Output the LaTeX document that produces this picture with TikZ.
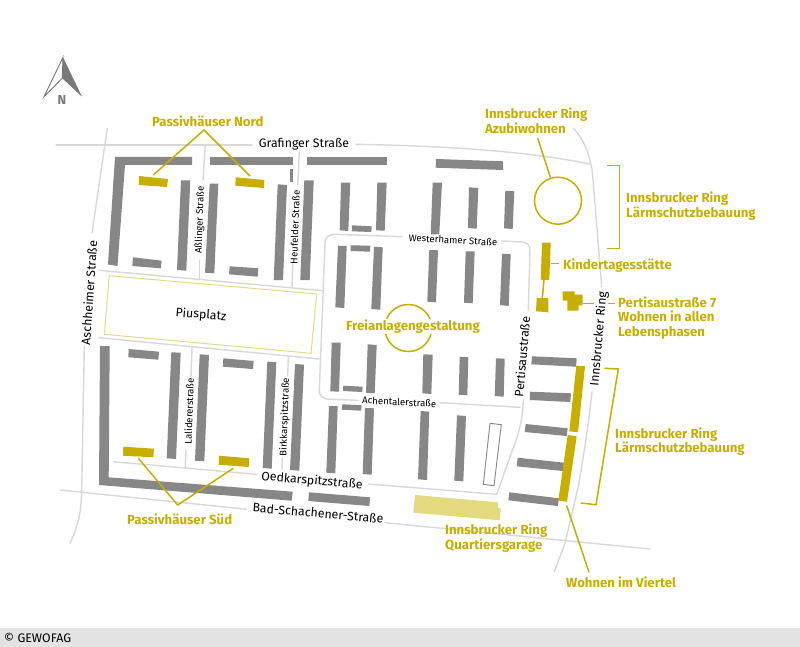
\documentclass[tikz,border=0pt]{standalone}
\usepackage{fontspec}
\setmainfont{Fira Sans}
\definecolor{gold}{HTML}{C8AE00}
\definecolor{bldgray}{HTML}{878787}
\definecolor{roadgray}{HTML}{D8D8D8}
\definecolor{parkline}{HTML}{E6DA85}
\definecolor{garage}{HTML}{E4DA80}
\definecolor{barcol}{HTML}{E3E3E3}
\tikzset{
  bld/.style={fill=bldgray},
  gbld/.style={fill=gold},
  road/.style={draw=roadgray,line width=1.4pt,line cap=round,line join=round},
  lead/.style={draw=gold,line width=1.5pt},
  goldlabel/.style={text=gold,font=\fontsize{13.2}{14.6}\selectfont\bfseries,align=left,inner sep=0pt},
  streetA/.style={text=black,font=\fontsize{12.3}{14}\selectfont,inner sep=0pt},
  streetB/.style={text=black,font=\fontsize{9.6}{12}\selectfont,inner sep=0pt},
}
\begin{document}
\begin{tikzpicture}[x=1pt,y=-1pt]
\useasboundingbox (0,0) rectangle (800,647);
\fill[white] (0,0) rectangle (800,647);
\fill[barcol] (0,628) rectangle (800,647);
\node[anchor=west,inner sep=0pt,font=\fontsize{12.4}{14}\selectfont] (copy) at (4,637.5) {© GEWOFAG};

% roads
\draw[road] (56,145) -- (252,145);
\draw[road] (356,144.3) .. controls (440,146) and (520,150) .. (590,164);
\draw[road] (107.3,128.3) -- (92,233);
\draw[road] (84.3,346.7) -- (81.7,490) .. controls (81,515) and (78,525) .. (70,543.3);
\draw[road] (205.3,145) -- (203,180);
\draw[road] (199.3,260) -- (199.3,279.3);
\draw[road] (299.3,151.7) -- (297.7,185);
\draw[road] (292.7,264) -- (292,287.3);
\draw[road] (99,270.3) -- (323,290.7);
\draw[road] (401.7,236.7) -- (335,234.3) .. controls (328,234.3) and (325,238) .. (325,243) -- (319.3,391) .. controls (319.3,396) and (323,399.3) .. (330,399.3) -- (358,400.3);
\draw[road] (440,402.7) -- (520,407.3);
\draw[road] (501.7,241) -- (522,242) .. controls (527,242.3) and (530,245) .. (530,250) -- (528.3,310);
\draw[road] (99,337.7) -- (319.3,359);
\draw[road] (192,347.7) -- (191,377.3);
\draw[road] (186,450) -- (185.3,467.7);
\draw[road] (288.3,356.7) -- (287.7,376);
\draw[road] (282.3,458.3) -- (282,470);
\draw[road] (113.3,461.7) -- (256.7,474.3);
\draw[road] (368.3,484) -- (496.7,494.3) -- (515,443) .. controls (520,430) and (523,415) .. (523.3,400);
\draw[road] (60,490) -- (246.7,509.3);
\draw[road] (385,522.7) -- (650,549);
\draw[road] (573.3,128.3) .. controls (585,140) and (592,160) .. (593,180) -- (601.7,286.7);
\draw[road] (592,391.7) .. controls (588,430) and (582,465) .. (578.3,486.7) -- (565,543.3) -- (554.3,571.7);

% Piusplatz
\draw[draw=parkline,line width=1pt] (109.3,275.7) -- (316.7,294) -- (311,353.3) -- (104.3,334.3) -- cycle;

% grey buildings, north-west
\fill[bld] (115,157)--(192,157)--(192,165)--(125,165)--(117.5,266)--(108,264.5)--cycle;
\fill[bld] (210,157)--(293,157)--(293,165)--(210,165)--cycle;
\fill[bld] (307,157)--(387,157)--(387,165)--(307,165)--cycle;
\fill[bld] (181,180.3)--(190.3,180.3)--(186.3,270.7)--(177,270)--cycle;
\fill[bld] (209.7,183.7)--(218.3,183.7)--(214.3,273.3)--(205,272.7)--cycle;
\fill[bld] (277.7,184.3)--(287,185)--(283,280)--(273.7,280)--cycle;
\fill[bld] (304.3,180.3)--(313.7,180.3)--(309.7,280)--(300.3,280)--cycle;
\fill[bld] (290.3,169.3)--(293.3,169.3)--(293.3,182)--(290.3,182)--cycle;
\fill[bld] (133,257.3)--(161.7,260.7)--(160.7,268.3)--(132.3,266)--cycle;
\fill[bld] (229.7,266.3)--(258.3,268.3)--(257.7,276.7)--(229,274.3)--cycle;
% north-east
\fill[bld] (341,182.7)--(350.3,182.7)--(348.3,231)--(339.7,230.3)--cycle;
\fill[bld] (377.3,182.7)--(386.7,182.7)--(384.7,230.7)--(376,230.3)--cycle;
\fill[bld] (352,225.3)--(371.7,226.3)--(371.3,232)--(351.7,231.3)--cycle;
\fill[bld] (436,159)--(503,161.3)--(503,170)--(435.7,167.7)--cycle;
\fill[bld] (432.7,182.7)--(442,182.7)--(439.3,234.3)--(430.7,234.3)--cycle;
\fill[bld] (469,187.3)--(478.3,188)--(476.7,228.7)--(468,228)--cycle;
\fill[bld] (505.3,190.7)--(514.3,191.3)--(512.7,229)--(504,228.3)--cycle;
\fill[bld] (338,245.7)--(346.7,246)--(344.3,308)--(335.3,307.3)--cycle;
\fill[bld] (350.7,245.3)--(370.3,245.7)--(370,251.7)--(350.7,251)--cycle;
\fill[bld] (374,246.7)--(382.7,247.3)--(380.3,309.7)--(371.3,309)--cycle;
\fill[bld] (429.3,250)--(438,250.3)--(436,302.3)--(427.3,301.7)--cycle;
\fill[bld] (465.7,251.3)--(474.7,251.3)--(472.7,303.3)--(464,302.7)--cycle;
\fill[bld] (502,253.7)--(510.7,254.3)--(508.7,306)--(500,305)--cycle;
% south-west
\fill[bld] (100,346)--(109.7,346)--(108.7,477.3)--(292.7,491.7)--(291.7,500.7)--(99,485)--cycle;
\fill[bld] (309,492.3)--(370,497.3)--(369.3,506)--(308.3,501)--cycle;
\fill[bld] (128.7,349)--(159,351.7)--(158.3,359.7)--(128.3,357.3)--cycle;
\fill[bld] (171.3,352.3)--(180.7,352.7)--(176,459)--(166.7,458.3)--cycle;
\fill[bld] (199.7,354.3)--(209,355)--(204.3,461.3)--(195,460.7)--cycle;
\fill[bld] (223.3,358.3)--(253.7,361)--(253,369)--(223,366.7)--cycle;
\fill[bld] (267.3,361.7)--(276.3,362.3)--(271.7,468.7)--(262.7,468)--cycle;
\fill[bld] (295,364)--(304,364.7)--(299.3,470.7)--(290,470)--cycle;
% south-centre
\fill[bld] (331.7,342.7)--(340.7,342.7)--(339,391.7)--(330.3,391.3)--cycle;
\fill[bld] (343.3,385.7)--(362.7,386.7)--(362.3,392)--(343,391)--cycle;
\fill[bld] (367.7,344.3)--(376.7,345)--(374.7,393.3)--(366,392.7)--cycle;
\fill[bld] (423.3,354.3)--(432.7,354.7)--(431.3,394)--(422.3,393.3)--cycle;
\fill[bld] (459.7,356.7)--(468.3,357.3)--(467.3,395.3)--(458.7,394.7)--cycle;
\fill[bld] (496,358.3)--(504.7,358.7)--(503.7,396.7)--(494.7,396)--cycle;
\fill[bld] (329,406)--(337.7,406)--(335.3,473.3)--(326.3,472.7)--cycle;
\fill[bld] (342.3,404.3)--(361.7,405.3)--(361,410.7)--(341.7,409.7)--cycle;
\fill[bld] (365,408)--(374,408.3)--(371.7,474.7)--(362.7,474)--cycle;
\fill[bld] (420.7,411)--(429.3,411.7)--(427,480)--(418,479.3)--cycle;
\fill[bld] (457,415.3)--(466,416)--(463.3,481.3)--(454.3,480.7)--cycle;
\draw[draw=bldgray,line width=0.9pt] (490,423.3)--(501.3,424.7)--(494,485.7)--(483.3,484.3)--cycle;
% south-east
\fill[bld] (532,356.3)--(576.7,358.3)--(576,366.7)--(531.3,364.3)--cycle;
\fill[bld] (530,391.7)--(571,393.3)--(570.3,402)--(529.7,400)--cycle;
\fill[bld] (525.7,424)--(567.7,428.3)--(566.7,436)--(524.7,432)--cycle;
\fill[bld] (517.7,457.7)--(564,462.7)--(562.7,471)--(516.7,466.3)--cycle;
\fill[bld] (509.3,492.3)--(559,498.3)--(557.7,506)--(508.3,500.3)--cycle;

% garage
\fill[garage] (415,495)--(497.7,502.3)--(498,508)--(500.7,508.3)--(500,520.3)--(413.3,512.7)--cycle;

% gold buildings
\fill[gbld] (139,176)--(168,179)--(167,187)--(138.7,185)--cycle;
\fill[gbld] (235.7,177.3)--(264.3,180)--(264,188)--(235.3,185.7)--cycle;
\fill[gbld] (123.3,446.7)--(154,448.7)--(153.3,457.3)--(123,455.7)--cycle;
\fill[gbld] (219,455.7)--(249.3,458.3)--(248.7,467)--(218.7,464.7)--cycle;
\fill[gbld] (542,242.7)--(550.7,242.7)--(549.3,280)--(540.7,279.7)--cycle;
\fill[gbld] (536.7,298)--(548.3,298)--(548.3,312.3)--(536,311.3)--cycle;
\fill[gbld] (562.7,291.3)--(574.7,291.3)--(574.7,294.7)--(582.7,294.7)--(582.7,305.3)--(578.7,305.3)--(578.7,310.7)--(567.3,310.7)--(567.3,300.7)--(562.7,300.7)--cycle;
\fill[gbld] (576.3,365.7)--(585,366.3)--(578,432.3)--(569.3,431.3)--cycle;
\fill[gbld] (567.7,435)--(576.7,436.3)--(567,501.7)--(558.3,500.7)--cycle;

% project circles
\node[circle,draw=gold,line width=1.5pt,minimum size=47pt,inner sep=0pt] (azubi) at (558,200.7) {};
\node[circle,draw=gold,line width=1.5pt,minimum size=47pt,inner sep=0pt] (frei) at (408.3,328) {};

% gold labels
\node[goldlabel,fill=white,minimum height=15pt,inner xsep=1pt] (freilabel) at (413,326.5) {Freianlagengestaltung};
\node[goldlabel,anchor=west] (nord) at (152,121) {Passivhäuser Nord};
\node[goldlabel,anchor=west] (sued) at (127,519) {Passivhäuser Süd};
\node[goldlabel,anchor=west] (azubilabel) at (485,121) {Innsbrucker Ring\\Azubiwohnen};
\node[goldlabel,anchor=west] (laermA) at (626,206) {Innsbrucker Ring\\Lärmschutzbebauung};
\node[goldlabel,anchor=west] (kita) at (563,265.5) {Kindertagesstätte};
\node[goldlabel,anchor=west] (pert) at (618,318) {Pertisaustraße 7\\Wohnen in allen\\Lebensphasen};
\node[goldlabel,anchor=west] (laermB) at (615,441.5) {Innsbrucker Ring\\Lärmschutzbebauung};
\node[goldlabel,anchor=west] (garagelabel) at (445,538) {Innsbrucker Ring\\Quartiersgarage};
\node[goldlabel,anchor=west] (viertel) at (566,582) {Wohnen im Viertel};

% connector ends
\coordinate (apexN) at (204,130);
\coordinate (nordA) at (153.3,175);
\coordinate (nordB) at (250,176);
\coordinate (apexS) at (177.7,505);
\coordinate (suedA) at (138.3,458.3);
\coordinate (suedB) at (233.3,468.3);
\coordinate (azA) at (537.7,138.3);
\coordinate (kitaA) at (550.7,263.3);
\coordinate (kitaB) at (559.3,263.3);
\coordinate (linkA) at (544,280);
\coordinate (linkB) at (542.3,298);
\coordinate (pertA) at (582.7,303.3);
\coordinate (pertB) at (594,303.3);
\coordinate (pertC) at (608,303.3);
\coordinate (pertD) at (615,303.3);
\coordinate (viertA) at (566.7,505.7);
\coordinate (viertB) at (589,572.3);
\coordinate (brA1) at (607.3,165.7);
\coordinate (brA2) at (619.3,165.7);
\coordinate (brA3) at (619.3,248.3);
\coordinate (brA4) at (607.3,248.3);
\coordinate (brB1) at (604.3,368.3);
\coordinate (brB2) at (618.3,369);
\coordinate (brB3) at (596,504.7);
\coordinate (brB4) at (580.7,503);

% connectors
\draw[lead] (nordA) -- (apexN) -- (nordB);
\draw[lead] (suedA) -- (apexS) -- (suedB);
\draw[lead] (azA) -- (azubi);
\draw[lead] (kitaA) -- (kitaB);
\draw[lead] (linkA) -- (linkB);
\draw[lead] (pertA) -- (pertB);
\draw[lead] (pertC) -- (pertD);
\draw[lead] (viertA) -- (viertB);
\draw[lead] (brA1) -- (brA2) -- (brA3) -- (brA4);
\draw[lead] (brB1) -- (brB2) -- (brB3) -- (brB4);

% street names
\node[streetA] (grafinger) at (304,144) {Grafinger Straße};
\node[streetA,rotate=86] (aschheim) at (89,293) {Aschheimer Straße};
\node[streetA,rotate=-4.5] (pius) at (201,315) {Piusplatz};
\node[streetA,rotate=-5] (oed) at (312,481) {Oedkarspitzstraße};
\node[streetA,rotate=-5] (bad) at (318,513) {Bad-Schachener-Straße};
\node[streetA,rotate=85] (pertstr) at (522,357) {Pertisaustraße};
\node[streetA,rotate=85] (inns) at (599,339) {Innsbrucker Ring};
\node[streetB,rotate=88] (asl) at (200,220) {Aßlinger Straße};
\node[streetB,rotate=88] (heuf) at (295,227) {Heufelder Straße};
\node[streetB,rotate=-3] (west) at (453,240) {Westerhamer Straße};
\node[streetB,rotate=88] (lali) at (189,411) {Lalidererstraße};
\node[streetB,rotate=88] (birk) at (285,417) {Birkkarspitzstraße};
\node[streetB,rotate=-3] (achen) at (399.3,402) {Achentalerstraße};

% north arrow
\draw[draw=bldgray!90!black,line width=0.9pt,line join=miter,fill=white] (63,57.3) -- (44,96.7) -- (62.3,78.3) -- cycle;
\fill[fill=bldgray!90!black] (63,57.3) -- (82,96.7) -- (62.3,78.3) -- cycle;
\node[inner sep=0pt,text=bldgray!90!black,font=\fontsize{13}{14}\selectfont\bfseries] (north) at (62,100) {N};
\end{tikzpicture}
\end{document}
